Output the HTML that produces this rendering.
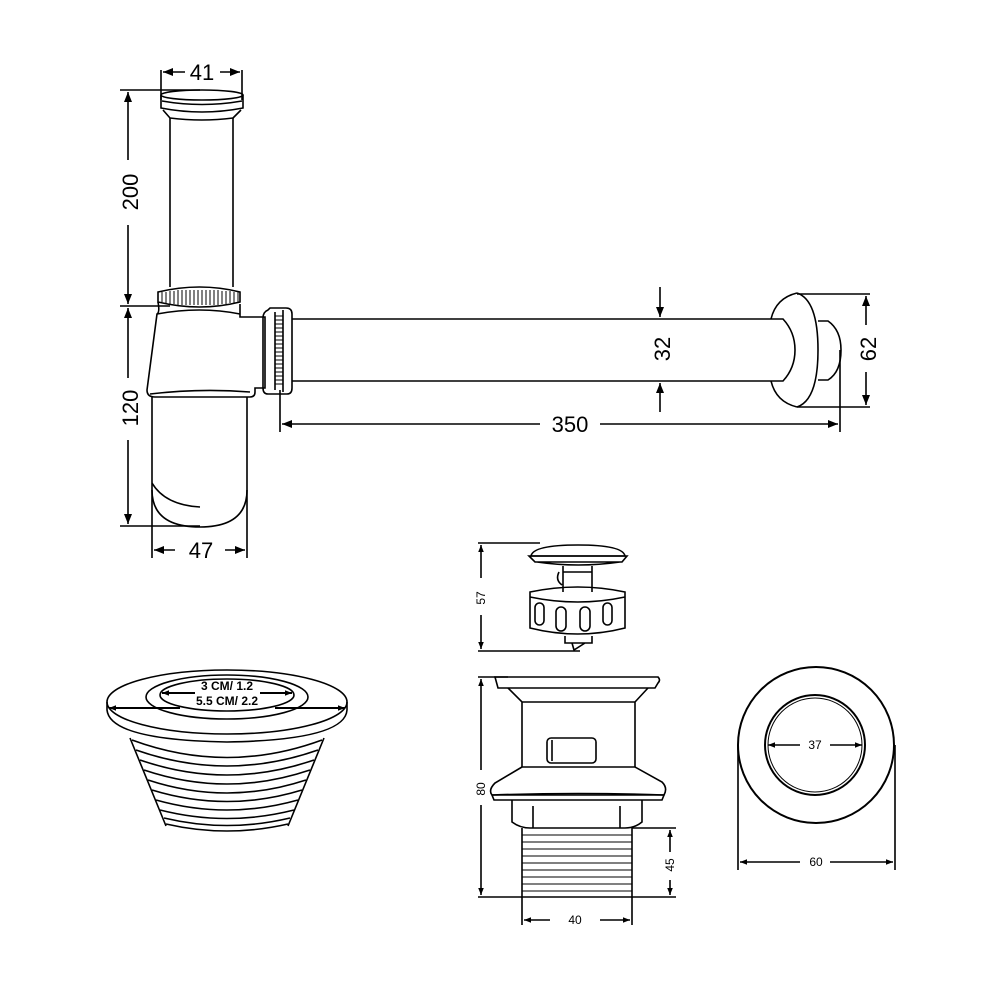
<!DOCTYPE html>
<html><head><meta charset="utf-8"><style>html,body{margin:0;padding:0;background:#fff}svg{display:block}</style></head>
<body>
<svg width="1000" height="1000" viewBox="0 0 1000 1000" xmlns="http://www.w3.org/2000/svg" font-family="Liberation Sans, sans-serif">
<defs>
<marker id="a" viewBox="0 0 10 10" refX="10" refY="5" markerWidth="10" markerHeight="10" markerUnits="userSpaceOnUse" orient="auto-start-reverse"><path d="M0,1 L10,5 L0,9 z" fill="#000"/></marker>
<marker id="s" viewBox="0 0 10 10" refX="10" refY="5" markerWidth="7" markerHeight="7" markerUnits="userSpaceOnUse" orient="auto-start-reverse"><path d="M0,1 L10,5 L0,9 z" fill="#000"/></marker>
</defs>
<g fill="none" stroke="#000" stroke-width="1.6">
<!-- trap vertical -->
<path d="M161,70 V100 M242,70 V100"/>
<line x1="185" y1="72" x2="163" y2="72" marker-end="url(#a)"/>
<line x1="220" y1="72" x2="240" y2="72" marker-end="url(#a)"/>
<ellipse cx="202" cy="95" rx="41" ry="5"/>
<path d="M161,95 V108 Q202,116 243,108 V95"/>
<path d="M162,101 Q202,108 242,101"/>
<path d="M163,110 L170,118 M241,110 L233,118 M170,118 Q202,122 233,118"/>
<path d="M170,118 V287 M233,118 V287"/>
<path d="M158,292 Q200,282 240,292 V302 Q200,312 158,302 Z"/>
<g stroke-width="1">
<path d="M162,292 V302 M166,292 V303 M170,291 V304 M174,291 V304 M178,290 V305 M182,290 V305 M186,290 V305 M190,290 V305 M194,290 V305 M198,290 V305 M202,290 V305 M206,290 V305 M210,290 V305 M214,290 V305 M218,290 V305 M222,291 V304 M226,291 V304 M230,291 V303 M234,292 V303 M238,292 V302"/>
</g>
<path d="M158,302 Q160,312 157,314 L147,390 Q147,397 155,397 L250,397 Q255,397 255,392 L255,388 L265,388 V317 L240,317 V304"/>
<path d="M157,314 Q200,306 240,314"/>
<path d="M150,394 Q200,388 250,392"/>
<path d="M152,397 V490 Q152,527 200,527 Q247,527 247,490 V397"/>
<path d="M152,483 Q165,505 200,507"/>
<!-- 200/120 dims -->
<path d="M120,90 H200 M120,306 H170 M120,526 H200"/>
<line x1="128" y1="160" x2="128" y2="92" marker-end="url(#a)"/>
<line x1="128" y1="225" x2="128" y2="304" marker-end="url(#a)"/>
<line x1="128" y1="378" x2="128" y2="308" marker-end="url(#a)"/>
<line x1="128" y1="440" x2="128" y2="524" marker-end="url(#a)"/>
<path d="M152,490 V558 M247,490 V558"/>
<line x1="175" y1="550" x2="154" y2="550" marker-end="url(#a)"/>
<line x1="225" y1="550" x2="245" y2="550" marker-end="url(#a)"/>
<!-- horizontal pipe -->
<path d="M268,310 Q263,312 263,318 V388 Q263,394 268,394 H287 Q292,394 292,388 V314 Q292,308 286,308 H270 Z"/>
<path d="M275,312 V390 M283,310 V392"/>
<g stroke-width="0.9"><path d="M275,316 H283 M275,320 H283 M275,324 H283 M275,328 H283 M275,332 H283 M275,336 H283 M275,340 H283 M275,344 H283 M275,348 H283 M275,352 H283 M275,356 H283 M275,360 H283 M275,364 H283 M275,368 H283 M275,372 H283 M275,376 H283 M275,380 H283 M275,384 H283"/></g>
<path d="M292,319 H783 Q795,332 795,350 Q795,368 783,381 H292"/>
<path d="M797,293 Q776,298 771,319 M771,381 Q776,402 797,407"/>
<path d="M797,293 Q818,300 818,350 Q818,400 797,407"/>
<path d="M818,321 H828 Q841,330 841,350 Q841,372 828,380 H818"/>
<path d="M797,294 H870 M797,407 H870 M840,350 V432 M280,390 V432"/>
<line x1="866" y1="325" x2="866" y2="296" marker-end="url(#a)"/>
<line x1="866" y1="372" x2="866" y2="405" marker-end="url(#a)"/>
<line x1="540" y1="424" x2="282" y2="424" marker-end="url(#a)"/>
<line x1="600" y1="424" x2="838" y2="424" marker-end="url(#a)"/>
<line x1="660" y1="287" x2="660" y2="317" marker-end="url(#a)"/>
<line x1="660" y1="412" x2="660" y2="383" marker-end="url(#a)"/>
<!-- pop-up plug -->
<path d="M478,543 H540 M478,651 H580"/>
<line x1="481" y1="578" x2="481" y2="545" marker-end="url(#s)"/>
<line x1="481" y1="615" x2="481" y2="649" marker-end="url(#s)"/>
<path d="M531,556 Q533,545 578,545 Q623,545 625,556 Z"/>
<path d="M529,556 H627 L622,562 H535 Z M537,562 Q578,568 620,562"/>
<path d="M563,566 V592 M592,566 V592 M563,572 H592 M559,572 Q555,580 562,585"/>
<path d="M530,592 Q578,582 625,592 V628 Q578,640 530,628 Z"/>
<path d="M530,597 Q578,607 625,597"/>
<rect x="535" y="603" width="9" height="22" rx="4.5"/><rect x="556" y="607" width="10" height="24" rx="5"/><rect x="580" y="607" width="10" height="24" rx="5"/><rect x="603" y="603" width="9" height="22" rx="4.5"/>
<path d="M565,636 V643 H592 V636 M572,643 L574,650 L585,643"/>
<!-- waste body -->
<path d="M478,677 H508 M478,897 H522"/>
<line x1="481" y1="770" x2="481" y2="679" marker-end="url(#s)"/>
<line x1="481" y1="805" x2="481" y2="895" marker-end="url(#s)"/>
<path d="M495,677 H658 Q661,680 658,683 L655,688 H498 Z"/>
<path d="M508,688 L522,702 H635 L648,688 M522,702 V767 M635,702 V767"/>
<rect x="547" y="738" width="49" height="25" rx="4"/>
<path d="M552,740 V761"/>
<path d="M522,767 L495,783 Q488,790 492,795 H664 Q668,788 662,782 L635,767 Z"/>
<path d="M492,795 Q578,792 664,795 L662,800 H494 Z"/>
<path d="M512,800 V822 Q520,828 530,828 H625 Q635,828 642,822 V800 M533,806 V828 M620,806 V828"/>
<path d="M522,828 V897 H632 V828"/>
<g stroke-width="1.1"><path d="M522,835 H632 M522,842 H632 M522,849 H632 M522,856 H632 M522,863 H632 M522,870 H632 M522,877 H632 M522,884 H632 M522,891 H632"/></g>
<path d="M632,828 H676 M632,897 H676 M522,897 V925 M632,897 V925"/>
<line x1="670" y1="852" x2="670" y2="830" marker-end="url(#s)"/>
<line x1="670" y1="880" x2="670" y2="895" marker-end="url(#s)"/>
<line x1="550" y1="920" x2="524" y2="920" marker-end="url(#s)"/>
<line x1="600" y1="920" x2="630" y2="920" marker-end="url(#s)"/>
<!-- flange thread view -->
<ellipse cx="227" cy="702" rx="120" ry="32"/>
<path d="M107,702 V710 Q110,740 227,742 Q345,740 347,710 V702"/>
<ellipse cx="227" cy="697" rx="81" ry="22"/>
<ellipse cx="227" cy="695" rx="67" ry="16"/>
<path d="M132,740 Q227,775 322,740 M136,750 Q227,782 318,750 M140,760 Q227,790 314,760 M144,770 Q227,798 310,770 M148,780 Q227,806 306,780 M152,790 Q227,813 302,790 M156,800 Q227,820 298,800 M160,810 Q227,827 294,810 M164,818 Q227,833 290,818 M166,824 Q227,838 288,824"/>
<path d="M130,738 L166,826 M324,738 L288,826"/>
<line x1="195" y1="693" x2="162" y2="693" stroke-width="2" marker-end="url(#s)"/>
<line x1="260" y1="693" x2="292" y2="693" stroke-width="2" marker-end="url(#s)"/>
<line x1="180" y1="708" x2="109" y2="708" stroke-width="2" marker-end="url(#s)"/>
<line x1="275" y1="708" x2="345" y2="708" stroke-width="2" marker-end="url(#s)"/>
<!-- round view -->
<circle cx="816" cy="745" r="78" stroke-width="2"/>
<circle cx="815" cy="745" r="50" stroke-width="2"/>
<circle cx="815" cy="745" r="47" stroke-width="1"/>
<path d="M738,745 V870 M895,745 V870"/>
<line x1="800" y1="745" x2="768" y2="745" marker-end="url(#s)"/>
<line x1="830" y1="745" x2="862" y2="745" marker-end="url(#s)"/>
<line x1="800" y1="862" x2="740" y2="862" marker-end="url(#s)"/>
<line x1="830" y1="862" x2="893" y2="862" marker-end="url(#s)"/>
</g>
<g fill="#000" font-size="22" text-anchor="middle">
<text x="202" y="80">41</text>
<text x="201" y="558">47</text>
<text x="570" y="432">350</text>
<text transform="translate(138,192) rotate(-90)">200</text>
<text transform="translate(138,408) rotate(-90)">120</text>
<text transform="translate(670,349) rotate(-90)">32</text>
<text transform="translate(876,349) rotate(-90)">62</text>
</g>
<g fill="#000" font-size="12" text-anchor="middle">
<text transform="translate(485,598) rotate(-90)">57</text>
<text transform="translate(485,789) rotate(-90)">80</text>
<text transform="translate(674,865) rotate(-90)">45</text>
<text x="575" y="924">40</text>
<text x="815" y="749">37</text>
<text x="816" y="866">60</text>
</g>
<g fill="#000" font-size="12" font-weight="bold" text-anchor="middle">
<text x="227" y="690">3 CM/ 1.2</text>
<text x="227" y="705">5.5 CM/ 2.2</text>
</g>
</svg>
</body></html>
